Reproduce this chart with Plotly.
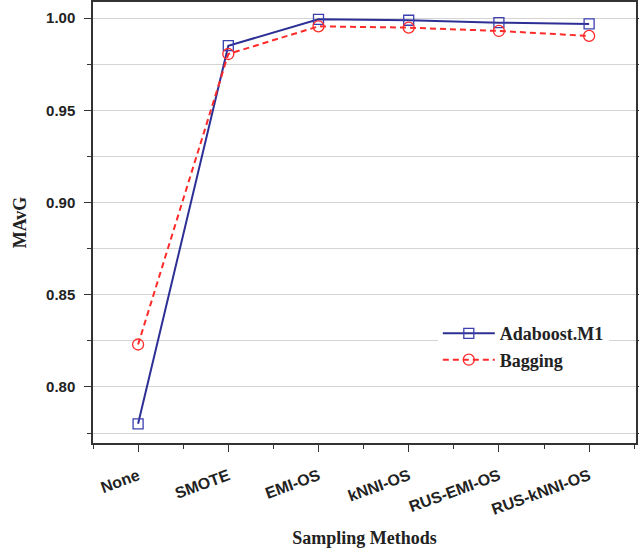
import plotly.graph_objects as go

methods = ["None", "SMOTE", "EMI-OS", "kNNI-OS", "RUS-EMI-OS", "RUS-kNNI-OS"]
adaboost = [0.780, 0.985, 0.9993, 0.9988, 0.9975, 0.9968]
bagging = [0.823, 0.9805, 0.9955, 0.9948, 0.9930, 0.9903]
y_ticks = [0.80, 0.85, 0.90, 0.95, 1.00]
y_labels = ["0.80", "0.85", "0.90", "0.95", "1.00"]

blue = "#2d2f95"
red = "#ff2a2a"

fig = go.Figure()
fig.add_trace(go.Scatter(
    x=list(range(len(methods))), y=adaboost, name="Adaboost.M1",
    mode="lines+markers",
    line=dict(color=blue, width=2),
    marker=dict(symbol="square-open", size=10, color="#3b3fb0", line=dict(width=1.3)),
))
fig.add_trace(go.Scatter(
    x=list(range(len(methods))), y=bagging, name="Bagging",
    mode="lines+markers",
    line=dict(color=red, width=2, dash="6px,4px"),
    marker=dict(symbol="circle-open", size=11, color=red, line=dict(width=1.3)),
))

fig.update_layout(
    width=639, height=550,
    margin=dict(l=93, r=3, t=2, b=107),
    plot_bgcolor="white", paper_bgcolor="white",
    showlegend=True,
    legend=dict(
        x=0.635, y=0.29, xanchor="left", yanchor="top",
        bgcolor="white",
        font=dict(family="Liberation Serif", size=18, color="#222222", weight="bold"),
        tracegroupgap=0, itemwidth=52,
    ),
    xaxis=dict(
        range=[-0.5, 5.52], automargin=False,
        tickmode="array", tickvals=list(range(len(methods))), ticktext=methods,
        tickangle=-20, ticklabelstandoff=9,
        tickfont=dict(family="Liberation Sans", size=16, color="#222222", weight="bold"),
        ticks="outside", ticklen=7, tickcolor="#333333",
        showline=True, linecolor="#333333", linewidth=1.5, mirror="allticks",
        showgrid=False, zeroline=False,
        minor=dict(tickvals=[i + 0.5 for i in range(-1, 6)], ticks="outside", ticklen=4, tickcolor="#333333"),
        title=dict(text="Sampling Methods", font=dict(family="Liberation Serif", size=18, color="#222222", weight="bold")),
    ),
    yaxis=dict(
        range=[0.7696, 1.0087], automargin=False,
        tickmode="array", tickvals=y_ticks, ticktext=y_labels,
        ticklabelstandoff=6,
        tickfont=dict(family="Liberation Sans", size=15, color="#222222", weight="bold"),
        ticks="outside", ticklen=7, tickcolor="#333333",
        showline=True, linecolor="#333333", linewidth=1.5, mirror="allticks",
        showgrid=True, gridcolor="#d4d4d4", gridwidth=1, zeroline=False,
        minor=dict(dtick=0.025, tick0=0.775, ticks="outside", ticklen=4, tickcolor="#333333", showgrid=True, gridcolor="#d4d4d4", gridwidth=1),
        title=dict(text="MAvG", font=dict(family="Liberation Serif", size=18, color="#222222", weight="bold")),
    ),
)

fig.write_html("out.html", config={"displayModeBar": False},
               post_script="document.body.style.margin='0';")
